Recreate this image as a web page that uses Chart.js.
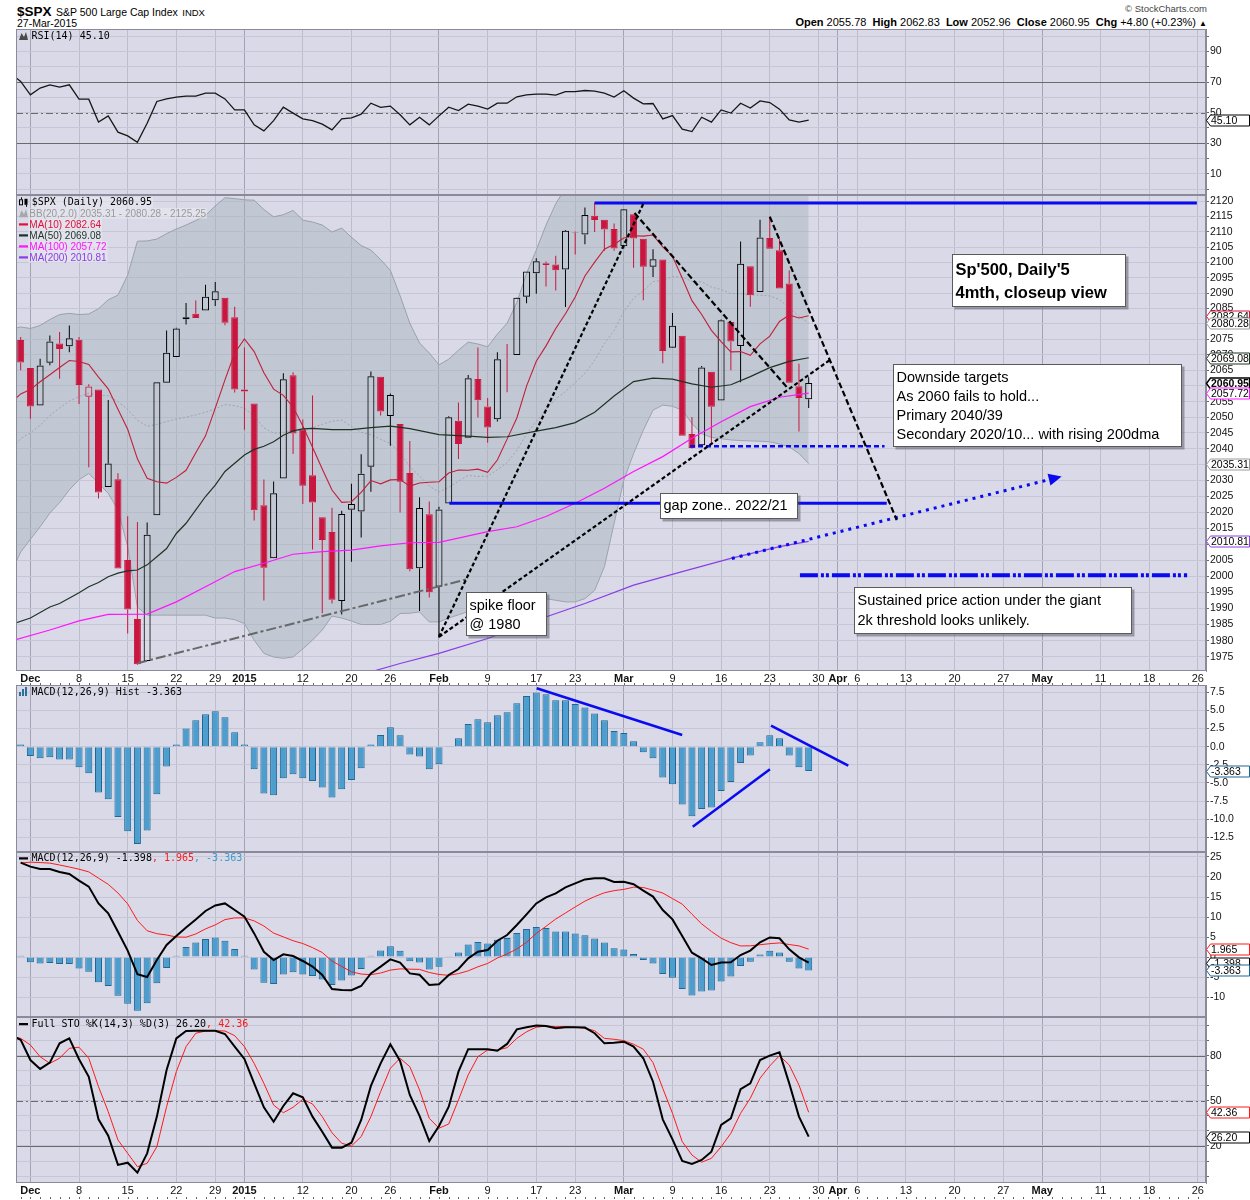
<!DOCTYPE html>
<html>
<head>
<meta charset="utf-8">
<title>$SPX Daily</title>
<script src="https://cdn.jsdelivr.net/npm/chart.js"></script>
<style>
  html, body { margin: 0; padding: 0; background: #fff; }
  body { width: 1250px; height: 1200px; position: relative; overflow: hidden; font-family: 'Liberation Sans', Arial, sans-serif; color: #000; }
  canvas { position: absolute; left: 16px; }
  .t { position: absolute; white-space: nowrap; }
</style>
</head>
<body>
<div class="t" style="left:17px;top:2px;line-height:18px;"><span style="font-weight:bold;font-size:13.5px;">$SPX</span> <span style="font-size:10.5px;">S&amp;P 500 Large Cap Index</span> <span style="font-size:9.5px;">INDX</span></div>
<div class="t" style="left:17px;top:17px;line-height:13px;font-size:10.5px;">27-Mar-2015</div>
<div class="t" style="right:43px;top:3px;line-height:12px;font-size:9.5px;color:#444;">&copy; StockCharts.com</div>
<div class="t" id="ohlc" style="right:43px;top:15px;line-height:14px;font-size:11px;"></div>
<canvas id="cRsi" width="1234" height="166" style="top:29px"></canvas>
<canvas id="cPrice" width="1234" height="490" style="top:195px"></canvas>
<canvas id="cHist" width="1234" height="167" style="top:685px"></canvas>
<canvas id="cMacd" width="1234" height="165" style="top:852px"></canvas>
<canvas id="cSto" width="1234" height="183" style="top:1017px"></canvas>
<script>
// ======================= DATA =======================
// Trading days shown (index 0 = Nov 28 2014 ... index 81 = Mar 27 2015)
const days = ['Nov 28','Dec 1','Dec 2','Dec 3','Dec 4','Dec 5','Dec 8','Dec 9','Dec 10','Dec 11','Dec 12','Dec 15','Dec 16','Dec 17','Dec 18','Dec 19','Dec 22','Dec 23','Dec 24','Dec 26','Dec 29','Dec 30','Dec 31','Jan 2','Jan 5','Jan 6','Jan 7','Jan 8','Jan 9','Jan 12','Jan 13','Jan 14','Jan 15','Jan 16','Jan 20','Jan 21','Jan 22','Jan 23','Jan 26','Jan 27','Jan 28','Jan 29','Jan 30','Feb 2','Feb 3','Feb 4','Feb 5','Feb 6','Feb 9','Feb 10','Feb 11','Feb 12','Feb 13','Feb 17','Feb 18','Feb 19','Feb 20','Feb 23','Feb 24','Feb 25','Feb 26','Feb 27','Mar 2','Mar 3','Mar 4','Mar 5','Mar 6','Mar 9','Mar 10','Mar 11','Mar 12','Mar 13','Mar 16','Mar 17','Mar 18','Mar 19','Mar 20','Mar 23','Mar 24','Mar 25','Mar 26','Mar 27'];
const priorClose = 2072.83; // Nov 26 close (for first candle colour)
const opens = [2074.78,2065.78,2053.77,2067.45,2073.64,2072.78,2074.84,2056.55,2058.86,2027.92,
  2030.36,2005.03,1986.71,1973.77,2018.98,2061.04,2069.28,2081.48,2083.25,2084.30,
  2087.63,2088.49,2082.11,2058.90,2054.44,2022.15,2005.55,2030.61,2063.45,2046.13,
  2031.58,2018.40,2013.75,1992.25,2020.76,2020.19,2034.30,2062.98,2050.42,2047.86,
  2032.34,2002.45,2019.35,1996.67,2022.71,2048.86,2043.45,2062.28,2053.47,2049.38,
  2068.55,2069.98,2088.78,2096.47,2099.16,2099.25,2097.65,2109.83,2109.10,2115.30,
  2113.91,2110.88,2105.23,2115.76,2107.72,2098.54,2100.91,2072.25,2076.14,2044.69,
  2041.10,2064.56,2055.35,2080.59,2072.84,2098.69,2090.32,2107.99,2103.94,2093.10,
  2059.94,2055.78];
const highs = [2075.76,2065.78,2068.77,2076.28,2077.34,2079.47,2075.78,2060.60,2058.86,2055.53,
  2032.25,2018.69,2016.89,2016.75,2061.23,2077.85,2078.76,2086.73,2087.56,2092.70,
  2093.55,2088.49,2085.58,2072.36,2054.44,2030.25,2029.61,2064.08,2064.43,2049.30,
  2056.93,2018.40,2021.35,2020.46,2028.94,2038.29,2064.62,2062.98,2057.62,2047.86,
  2042.49,2024.64,2023.32,2021.66,2050.30,2054.74,2063.55,2072.40,2056.16,2070.86,
  2073.48,2088.53,2097.03,2101.30,2100.23,2102.13,2110.61,2110.05,2117.94,2119.59,
  2113.91,2112.74,2117.52,2115.76,2107.72,2104.25,2100.91,2083.49,2076.14,2050.08,
  2066.41,2064.56,2081.41,2080.59,2106.85,2098.69,2113.92,2114.86,2107.63,2097.43,
  2067.15,2062.83];
const lows = [2065.06,2049.57,2053.77,2066.65,2062.34,2070.81,2054.27,2034.17,2024.26,2027.92,
  2002.33,1982.26,1972.56,1973.77,2018.98,2061.03,2069.28,2079.77,2081.86,2084.30,
  2085.75,2079.53,2057.94,2046.04,2017.34,1992.44,2005.55,2030.61,2038.33,2022.58,
  2008.25,1988.44,1991.47,1988.12,2004.49,2012.04,2026.38,2050.54,2040.97,2019.91,
  2001.49,1989.18,1993.38,1980.90,2022.71,2036.72,2043.45,2049.97,2041.88,2048.62,
  2057.99,2069.98,2086.70,2089.80,2092.15,2090.79,2085.44,2102.54,2105.87,2109.89,
  2103.76,2103.75,2104.50,2098.26,2087.62,2095.22,2067.27,2072.21,2044.16,2040.08,
  2041.10,2041.17,2055.35,2065.08,2061.23,2085.56,2090.32,2104.42,2091.50,2061.05,
  2045.50,2052.96];
const closes = [2067.56,2053.44,2066.55,2074.33,2071.92,2075.37,2060.31,2059.82,2026.14,2035.33,
  2002.33,1989.63,1972.74,2012.89,2061.23,2070.65,2078.54,2082.17,2081.88,2088.77,
  2090.57,2080.35,2058.90,2058.20,2020.58,2002.61,2025.90,2062.14,2044.81,2028.26,
  2023.03,2011.27,1992.67,2019.42,2022.55,2032.12,2063.15,2051.82,2057.09,2029.55,
  2002.16,2021.25,1994.99,2020.85,2050.03,2041.51,2062.52,2055.47,2046.74,2068.59,
  2068.53,2088.48,2096.99,2100.34,2099.68,2097.45,2110.30,2109.66,2115.48,2113.86,
  2110.74,2104.50,2117.39,2107.78,2098.53,2101.04,2071.26,2079.43,2044.16,2040.24,
  2065.95,2053.40,2081.19,2074.28,2099.50,2089.27,2108.10,2104.42,2091.50,2061.05,
  2056.15,2060.95];

// Overlays that start one day earlier (index -1 = Nov 26)
const ma10 = [2054.65,2057.47,2058.84,2061.36,2063.61,2065.93,2068.19,2067.88,2066.92,2062.83,2059.08,
  2052.55,2046.17,2036.79,2030.65,2029.58,2029.11,2030.93,2033.17,2038.74,2044.08,
  2052.91,2061.98,2070.60,2075.13,2071.06,2064.26,2058.99,2056.99,2053.28,2047.23,
  2040.48,2033.57,2026.95,2023.07,2023.27,2026.22,2029.94,2028.91,2030.14,2030.27,
  2028.18,2029.18,2029.41,2029.55,2032.30,2033.24,2033.18,2033.54,2032.51,2036.41,
  2043.05,2049.77,2059.97,2067.92,2072.89,2078.48,2083.26,2088.68,2095.55,2100.08,
  2104.30,2105.90,2107.94,2108.68,2108.57,2108.93,2105.02,2102.00,2094.87,2087.51,
  2083.03,2077.92,2074.30,2070.95,2071.05,2069.87,2073.55,2076.05,2080.79,2082.87,
  2081.89,2082.64];
const bbLower = [2001.0,2007.5,2011.5,2015.4,2019.7,2023.0,2027.0,2030.2,2032.2,2029.1,2025.9,
  2020.7,2009.2,1990.4,1987.9,1987.9,1987.9,1987.9,1987.9,1987.9,1987.9,
  1987.0,1987.0,1986.5,1985.3,1980.2,1976.1,1975.0,1974.6,1975.0,1977.5,
  1980.2,1983.3,1987.6,1987.0,1986.1,1985.0,1985.0,1985.0,1986.0,1988.4,
  1988.5,1988.9,1985.8,1985.8,1987.0,1988.0,1989.0,1989.0,1990.0,1990.0,
  1991.0,1992.0,1993.0,1993.5,1993.0,1992.5,1992.0,1992.0,1993.0,1995.6,
  2002.9,2016.5,2030.1,2038.5,2045.9,2052.3,2053.9,2053.5,2052.3,2048.0,
  2044.8,2043.6,2043.2,2042.8,2042.6,2042.5,2042.4,2042.2,2041.5,2040.6,
  2038.5,2035.31];
const bbMid = [2039.6,2043.25,2045.02,2047.45,2050.56,2052.98,2055.19,2056.61,2057.69,2057.01,2056.86,
  2055.01,2052.50,2049.08,2047.13,2047.76,2048.65,2049.40,2050.04,2050.78,2051.58,
  2052.73,2054.08,2053.69,2052.89,2050.32,2046.68,2044.96,2045.08,2046.01,2045.66,
  2046.69,2047.77,2048.77,2049.10,2047.16,2045.24,2044.47,2042.95,2041.71,2038.75,
  2034.33,2031.37,2028.18,2026.31,2027.78,2029.73,2031.56,2031.23,2031.32,2033.34,
  2035.61,2039.47,2044.69,2048.74,2052.59,2055.86,2058.22,2061.11,2064.03,2068.24,
  2073.67,2077.84,2083.96,2088.30,2090.73,2093.70,2094.14,2095.34,2095.21,2093.79,
  2093.66,2091.91,2091.12,2089.82,2089.81,2089.40,2089.29,2089.03,2087.83,2085.19,
  2082.46,2080.28];
const bbUpper = [2078.2,2079.0,2078.5,2079.5,2081.4,2083.0,2083.4,2083.0,2083.2,2084.9,2087.8,
  2089.3,2095.8,2106.9,2107.0,2107.6,2109.4,2110.9,2112.2,2113.7,2115.3,
  2118.5,2121.2,2120.9,2120.5,2120.4,2117.3,2114.9,2115.6,2117.0,2113.8,
  2113.2,2112.2,2109.9,2111.2,2108.2,2105.5,2104.0,2100.9,2097.4,2089.1,
  2080.2,2073.8,2070.6,2066.8,2068.6,2071.5,2074.1,2073.5,2072.6,2076.7,
  2080.2,2086.9,2096.4,2104.0,2112.2,2119.2,2124.4,2130.2,2135.1,2140.9,
  2144.4,2139.2,2137.8,2138.1,2135.6,2135.1,2134.4,2137.2,2138.1,2139.6,
  2142.5,2140.2,2139.0,2136.8,2137.0,2136.3,2136.2,2135.9,2134.2,2129.8,
  2126.4,2125.25];
// Slow moving averages read at sample days (day index, value)
const ma50Days = [-1,1,3,4,6,7,8,9,10,11,12,13,14,15,16,17,18,19,20,21,22,23,24,25,26,27,28,29,30,32,34,36,38,40,43,46,48,50,53,55,57,59,61,63,65,67,69,71,73,75,77,79,81];
const ma50Vals = [1985.0,1987.0,1990.4,1991.5,1994.8,1996.7,1998.0,1999.8,2000.9,2001.6,2001.9,2003.5,2006.0,2008.6,2013.3,2016.5,2020.7,2024.9,2028.5,2032.8,2035.4,2038.0,2039.8,2040.8,2042.2,2044.3,2045.7,2046.3,2046.5,2046.1,2046.1,2046.7,2047.2,2046.4,2044.5,2044.0,2043.6,2043.8,2045.6,2046.7,2048.3,2051.6,2056.8,2061.4,2062.5,2062.2,2060.7,2059.6,2060.4,2063.0,2065.9,2067.9,2069.08];
const ma100Days = [-1,3,6,9,13,16,19,22,25,28,31,34,37,40,43,48,51,54,57,60,63,66,69,72,75,78,81];
const ma100Vals = [1979.9,1983.3,1986.1,1988.1,1988.2,1992.0,1996.7,2001.4,2004.0,2006.8,2007.6,2008.1,2009.4,2010.4,2010.5,2013.9,2015.4,2018.6,2022.8,2027.5,2032.8,2037.5,2043.3,2048.6,2053.4,2056.4,2057.72];
const ma200Days = [35,39,43,48,53,58,63,68,73,78,81];
const ma200Vals = [1969.6,1973.0,1976.1,1980.7,1986.3,1991.5,1997.2,2001.4,2005.5,2009.2,2010.81];

// RSI(14), index -1 .. 81
const rsi = [75.5,70.4,61.7,66.1,68.2,66.7,68.2,58.8,58.8,43.8,47.9,
  37.2,34.8,30.6,43.1,57.3,59.0,60.2,60.8,60.8,62.8,
  62.8,59.0,51.8,51.8,42.0,38.1,44.8,53.6,49.7,45.9,
  44.8,42.5,38.7,45.9,46.6,49.0,56.2,53.4,54.3,48.6,
  42.0,47.0,42.0,47.9,53.6,51.4,55.6,54.3,52.3,56.2,
  56.2,60.4,61.7,62.1,62.1,61.5,63.8,63.8,64.5,64.1,
  62.8,60.2,64.3,59.5,55.8,56.0,45.9,48.1,39.2,37.6,
  47.0,43.8,51.8,49.7,56.2,53.0,57.7,56.6,52.3,45.3,
  43.8,45.1];
// MACD(12,26,9), index 0 .. 81
const macd = [23.6,22.6,22.0,22.0,21.25,20.75,19.1,17.6,13.4,10.9,
  6.3,1.6,-4.3,-5.0,-0.75,3.0,5.25,7.4,9.4,11.5,
  12.9,13.4,11.75,10.1,5.9,1.3,-0.75,0.67,0.25,-1.0,
  -2.4,-4.5,-8.0,-8.25,-8.3,-7.25,-4.1,-2.4,-0.6,-1.4,
  -4.1,-4.45,-7.0,-6.8,-4.5,-3.0,-0.33,1.33,1.75,4.08,
  5.5,8.0,10.67,13.4,14.9,15.9,17.4,18.4,19.4,19.7,
  19.7,18.75,18.8,18.2,16.6,15.1,11.75,9.4,5.25,1.08,
  -0.33,-2.0,-1.4,-1.3,0.5,1.6,3.67,4.9,4.67,1.92,
  -0.08,-1.398];
const signal = [23.5,23.7,23.61,23.47,23.0,22.5,21.95,21.28,19.71,18.17,
  16.01,13.29,9.14,6.56,5.83,5.5,5.0,4.95,5.76,7.03,
  8.02,9.35,9.77,9.78,9.03,7.75,5.97,5.04,4.07,3.37,
  2.34,1.12,-1.0,-2.36,-3.7,-4.26,-4.42,-4.01,-3.27,-2.97,
  -3.04,-3.09,-3.87,-4.36,-4.59,-4.15,-3.46,-2.45,-1.61,-0.25,
  0.76,2.01,3.67,5.9,7.67,9.5,11.0,12.51,13.97,15.1,
  16.06,16.59,16.91,17.46,17.38,16.71,15.99,14.6,13.22,10.7,
  8.28,6.38,4.72,3.58,2.76,2.8,3.07,3.33,3.52,3.12,
  2.77,1.965];
const hist = [0.32,-1.29,-1.61,-1.47,-1.75,-1.75,-2.85,-3.68,-6.31,-7.27,
  -9.71,-11.69,-13.44,-11.56,-6.58,-2.72,0.32,2.53,3.64,4.47,
  4.88,4.05,1.98,0.32,-3.13,-6.45,-6.72,-4.37,-3.82,-4.37,
  -4.74,-5.62,-7.00,-5.89,-4.60,-2.99,0.32,1.61,2.67,1.57,
  -1.06,-1.36,-3.13,-2.44,0.09,1.15,3.13,3.78,3.36,4.33,
  4.74,5.99,7.00,7.50,7.23,6.40,6.40,5.89,5.43,4.60,
  3.64,2.16,1.89,0.74,-0.78,-1.61,-4.24,-5.20,-7.97,-9.62,
  -8.61,-8.38,-6.12,-4.88,-2.26,-1.20,0.60,1.57,1.15,-1.20,
  -2.85,-3.363];
// Full Stochastics %K(14,3) %D(3), index -1 .. 81
const stoK = [93.5,90.5,77.1,71.2,75.4,88.2,91.5,77.6,66.0,37.7,26.8,
  7.4,8.9,2.3,15.1,39.5,70.5,91.5,96.4,96.6,96.6,
  96.6,94.4,86.0,77.8,61.6,45.7,36.1,46.6,55.0,52.4,
  39.5,29.5,18.9,18.9,22.2,37.3,59.9,74.9,87.6,76.5,
  53.9,40.0,23.3,33.3,46.1,69.4,84.3,84.3,84.3,83.3,
  87.8,97.5,98.9,100,99.7,98.2,98.9,98.9,98.7,94.9,
  88.2,88.6,89.3,86.0,78.3,62.7,37.7,24.4,10.0,8.0,
  10.7,16.2,34.0,38.4,57.7,61.6,77.1,80.0,82.2,61.6,
  39.5,26.2];
const stoD = [93.0,91.5,87.1,79.3,74.9,78.3,84.9,85.6,78.3,59.4,42.8,
  24.0,15.1,6.2,8.5,19.5,46.1,69.4,86.0,94.9,96.4,
  96.6,96.4,93.3,86.0,74.9,61.6,47.2,42.1,45.7,51.0,
  47.9,39.5,28.8,21.8,20.0,26.2,39.5,56.1,71.6,78.3,
  72.7,57.2,38.4,31.8,34.6,50.6,67.2,79.3,83.8,83.8,
  85.3,91.5,95.9,98.9,99.7,99.3,99.3,98.9,98.2,96.6,
  91.5,90.9,90.0,87.6,84.3,75.4,58.3,41.7,22.9,14.0,
  9.2,11.8,19.5,28.4,41.7,51.7,65.0,73.2,80.0,73.8,
  60.5,42.36];

// Time axis tick labels (trading-day index incl. future days)
const tickIdx  = [1,6,11,16,20,23,29,34,38,43,48,53,57,62,67,72,77,82,84,86,91,96,101,105,111,116,121];
const tickText = ['Dec','8','15','22','29','2015','12','20','26','Feb','9','17','23','Mar','9','16','23','30','Apr','6','13','20','27','May','11','18','26'];
const monthTicks = ['Dec','2015','Feb','Mar','Apr','May'];

// Annotations (day index, price / indicator value)
const resistance    = [59.0, 120.9, 2119.5];
const gapZone       = [44.06, 89.02, 2022.8];
const primaryTarget = [68.8, 88.8, 2040.8];
const threshold2k   = [80.1, 119.9, 2000.3];
const trendLines = [[43.0,1981.2,64.0,2119.2],[43.0,1981.2,83.2,2068.4],[63.1,2116.2,78.9,2059.1],[77.0,2115.0,90.05,2017.5]];
const floorLine  = [12.0,1973.1,45.85,1999.0];
const projection = [73.1,2005.5,107.0,2031.2];
const histLines  = [[53.04,8.07,68.0,1.62],[69.08,-11.05,77.02,-3.12],[77.13,2.9,85.07,-2.62]];
const noteText = [
  ["Sp'500, Daily'5", '4mth, closeup view'],
  ['Downside targets', 'As 2060 fails to hold...', 'Primary 2040/39', 'Secondary 2020/10... with rising 200dma'],
  ['gap zone.. 2022/21'],
  ['spike floor', '@ 1980'],
  ['Sustained price action under the giant', '2k threshold looks unlikely.']
];
const noteDay   = [95.77, 89.70, 65.72, 45.74, 85.69];
const notePrice = [2102.7, 2067.0, 2025.9, 1995.1, 1996.6];

// ======================= STYLE =======================
const FONT = "'Liberation Sans', Arial, sans-serif";
const MONO = "'DejaVu Sans Mono', monospace";
const PANEL_BG = '#d9d9e7';
const GRID_H = '#c6c6d6';
const GRID_V = '#bdbdcd';
const GRID_M = '#a3a3b5';
const RED = '#c8163e';
const BLUE = '#0a0af0';
const MA10_C = '#c0203a', MA50_C = '#1f3324', MA100_C = '#ff14ff', MA200_C = '#8a3ee6';
const HIST_F = '#4d9ecf', HIST_B = '#1d6793';
const X_MIN = -0.48, X_MAX = 121.84;
const noteStyle = [
  { w: 173, h: 52, font: 'bold 16.5px ' + FONT, first: 15.5, step: 23 },
  { w: 288, h: 82, font: '14.5px ' + FONT, first: 13.5, step: 19.1 },
  { w: 137, h: 25, font: '14.5px ' + FONT, first: 12.8, step: 19 },
  { w: 80,  h: 43, font: '14.5px ' + FONT, first: 13.5, step: 19 },
  { w: 277, h: 46, font: '14.5px ' + FONT, first: 13, step: 20 }
];

Chart.defaults.animation = false;
Chart.defaults.font.family = FONT;
Chart.defaults.events = [];
Chart.defaults.plugins.legend.display = false;
Chart.defaults.plugins.tooltip.enabled = false;
Chart.defaults.elements.point.radius = 0;
Chart.defaults.elements.line.tension = 0;

const last = a => a[a.length - 1];
const range = (a, b, s) => { const r = []; for (let v = a; v <= b + 1e-9; v += s) r.push(+v.toFixed(4)); return r; };
const pts = (arr, start) => arr.map((v, i) => ({ x: i + start, y: v }));
const pairs = (ds, vs) => ds.map((d, i) => ({ x: d, y: vs[i] }));
const isMonth = v => { const k = tickIdx.indexOf(v); return k >= 0 && monthTicks.includes(tickText[k]); };

// header OHLC text from data
(function () {
  const n = closes.length - 1, chg = closes[n] - closes[n - 1];
  const pct = chg / closes[n - 1] * 100;
  document.getElementById('ohlc').innerHTML =
    '<b>Open</b> ' + opens[n].toFixed(2) + '&nbsp; <b>High</b> ' + highs[n].toFixed(2) +
    '&nbsp; <b>Low</b> ' + lows[n].toFixed(2) + '&nbsp; <b>Close</b> ' + closes[n].toFixed(2) +
    '&nbsp; <b>Chg</b> ' + (chg >= 0 ? '+' : '') + chg.toFixed(2) + ' (' + (chg >= 0 ? '+' : '') + pct.toFixed(2) + '%) <span style="font-size:8px">&#9650;</span>';
})();

function xAxis(h, show) {
  return {
    type: 'linear', min: X_MIN, max: X_MAX, bounds: 'data', offset: false,
    afterBuildTicks: s => { s.ticks = tickIdx.map(v => ({ value: v })); },
    afterFit: s => { s.height = h; s.paddingLeft = 0; s.paddingRight = 0; },
    ticks: {
      display: show, autoSkip: false, maxRotation: 0, minRotation: 0, padding: 1, color: '#111',
      callback: v => { const k = tickIdx.indexOf(v); return k < 0 ? '' : tickText[k]; },
      font: c => ({ family: FONT, size: 11, weight: isMonth(c.tick ? c.tick.value : null) ? 'bold' : 'normal' })
    },
    grid: { offset: false, drawTicks: false, lineWidth: 1, color: c => isMonth(c.tick ? c.tick.value : null) ? GRID_M : GRID_V },
    border: { display: false }
  };
}
function yAxis(type, min, max, tickVals, labelFn) {
  return {
    type, position: 'right', min, max, bounds: 'data',
    afterBuildTicks: s => { s.ticks = tickVals.map(v => ({ value: v })); },
    afterFit: s => { s.width = 44; s.paddingTop = 0; s.paddingBottom = 0; },
    ticks: { autoSkip: false, padding: 1, color: '#111', font: { family: FONT, size: 10.5 }, callback: labelFn },
    grid: { color: GRID_H, lineWidth: 1, drawTicks: true, tickLength: 3, tickColor: '#666' },
    border: { display: true, color: '#8a8a9a' }
  };
}

function drawIcon(ctx, kind, x, y, color) {
  ctx.save();
  ctx.fillStyle = color; ctx.strokeStyle = color;
  if (kind === 'dash') { ctx.fillRect(x, y - 1, 9, 2.2); }
  else if (kind === 'mount') {
    ctx.beginPath(); ctx.moveTo(x, y + 4); ctx.lineTo(x + 2.5, y - 3); ctx.lineTo(x + 5, y + 1);
    ctx.lineTo(x + 7, y - 4); ctx.lineTo(x + 9, y + 4); ctx.closePath(); ctx.fill();
  } else if (kind === 'candle') {
    ctx.lineWidth = 1;
    ctx.strokeRect(x + 0.5, y - 2.5, 3, 5); ctx.fillRect(x + 5.5, y - 3.5, 3, 6);
    ctx.fillRect(x + 2, y - 5, 1, 2); ctx.fillRect(x + 7, y + 2.5, 1, 2);
  } else if (kind === 'bars') {
    ctx.fillRect(x, y, 2, 4); ctx.fillRect(x + 3, y - 3, 2, 7); ctx.fillRect(x + 6, y - 5, 2, 9);
  }
  ctx.restore();
}
function drawLegend(chart, rows) {
  const { ctx, chartArea: a } = chart;
  ctx.save(); ctx.textBaseline = 'middle'; ctx.textAlign = 'left';
  rows.forEach(row => {
    const y = a.top + row.y;
    let x = a.left + row.tx;
    if (row.bg) {
      let w = 0; row.parts.forEach(p => { ctx.font = p.f; w += ctx.measureText(p.t).width; });
      ctx.fillStyle = 'rgba(238,238,244,0.5)'; ctx.fillRect(x - 1, y - 5.5, w + 2, 11);
    }
    drawIcon(ctx, row.icon, a.left + 3, y, row.ic);
    row.parts.forEach(p => { ctx.font = p.f; ctx.fillStyle = p.c; ctx.fillText(p.t, x, y + 0.5); x += ctx.measureText(p.t).width; });
  });
  ctx.restore();
}
function valueBox(chart, b) {
  const { ctx, chartArea: a, scales: { y } } = chart;
  const py = Math.round(y.getPixelForValue(b.v)) + 0.5;
  const x0 = a.right + 0.5, w = 43, h = 11;
  ctx.save();
  ctx.beginPath();
  ctx.moveTo(x0, py); ctx.lineTo(x0 + 4, py - h / 2); ctx.lineTo(x0 + w, py - h / 2);
  ctx.lineTo(x0 + w, py + h / 2); ctx.lineTo(x0 + 4, py + h / 2); ctx.closePath();
  ctx.fillStyle = '#fff'; ctx.fill();
  ctx.lineWidth = b.bold ? 1.4 : 1; ctx.strokeStyle = b.color; ctx.stroke();
  ctx.fillStyle = '#000'; ctx.font = (b.bold ? 'bold ' : '') + '10.5px ' + FONT;
  ctx.textBaseline = 'middle'; ctx.textAlign = 'left';
  ctx.fillText(b.text, x0 + 4.5, py + 0.5);
  ctx.restore();
}
function drawMinor(chart, off) {
  const { ctx, chartArea: a, scales: { x } } = chart;
  ctx.save(); ctx.fillStyle = '#666';
  for (let d = 0; d <= 121; d++) { const px = Math.round(x.getPixelForValue(d)); ctx.fillRect(px, a.bottom + off, 1, 2); }
  ctx.restore();
}
function panelPlugin(cfg) {
  return {
    id: 'panel',
    beforeDraw(chart) {
      const { ctx, chartArea: a } = chart;
      ctx.save(); ctx.fillStyle = PANEL_BG; ctx.fillRect(a.left, a.top, a.right - a.left, a.bottom - a.top); ctx.restore();
    },
    beforeDatasetsDraw(chart) {
      if (!cfg.refs) return;
      const { ctx, chartArea: a, scales: { y } } = chart;
      ctx.save();
      cfg.refs.forEach(r => {
        const py = Math.round(y.getPixelForValue(r.v)) + 0.5;
        ctx.strokeStyle = '#6a6a6a'; ctx.lineWidth = 1.2; ctx.setLineDash(r.dash || []);
        ctx.beginPath(); ctx.moveTo(a.left, py); ctx.lineTo(a.right, py); ctx.stroke();
      });
      ctx.restore();
    },
    afterDatasetsDraw(chart) { if (cfg.annotate) cfg.annotate(chart); },
    afterDraw(chart) {
      const { ctx, chartArea: a } = chart;
      ctx.save(); ctx.strokeStyle = '#8a8a9a'; ctx.lineWidth = 1;
      ctx.strokeRect(a.left + 0.5, a.top + 0.5, a.right - a.left - 1, a.bottom - a.top - 1);
      ctx.restore();
      if (cfg.legend) drawLegend(chart, cfg.legend);
      (cfg.boxes || []).forEach(b => valueBox(chart, b));
      if (cfg.minor != null) drawMinor(chart, cfg.minor);
    }
  };
}
function strokeSeg(ctx, p1, p2, color, width, dash) {
  ctx.beginPath(); ctx.setLineDash(dash || []); ctx.strokeStyle = color; ctx.lineWidth = width;
  ctx.moveTo(p1[0], p1[1]); ctx.lineTo(p2[0], p2[1]); ctx.stroke();
}
function drawNote(ctx, p, lines, s) {
  const L = Math.round(p[0]) + 0.5, T = Math.round(p[1]) + 0.5;
  ctx.setLineDash([]);
  ctx.fillStyle = 'rgba(70,70,85,0.45)'; ctx.fillRect(L + 2, T + 2, s.w + 1, s.h + 1);
  ctx.fillStyle = '#fff'; ctx.fillRect(L, T, s.w, s.h);
  ctx.strokeStyle = '#5a5a5a'; ctx.lineWidth = 1; ctx.strokeRect(L, T, s.w, s.h);
  ctx.fillStyle = '#000'; ctx.font = s.font; ctx.textBaseline = 'middle'; ctx.textAlign = 'left';
  lines.forEach((t, i) => ctx.fillText(t, L + 3, T + s.first + i * s.step));
}
function annotatePrice(chart) {
  const { ctx, scales: { x, y } } = chart;
  const P = (d, v) => [x.getPixelForValue(d), y.getPixelForValue(v)];
  ctx.save();
  strokeSeg(ctx, P(floorLine[0], floorLine[1]), P(floorLine[2], floorLine[3]), '#686868', 2, [10, 3, 3, 3]);
  strokeSeg(ctx, P(resistance[0], resistance[2]), P(resistance[1], resistance[2]), BLUE, 3, []);
  strokeSeg(ctx, P(gapZone[0], gapZone[2]), P(gapZone[1], gapZone[2]), BLUE, 3, []);
  strokeSeg(ctx, P(primaryTarget[0], primaryTarget[2]), P(primaryTarget[1], primaryTarget[2]), BLUE, 2.5, [5, 3]);
  strokeSeg(ctx, P(threshold2k[0], threshold2k[2]), P(threshold2k[1], threshold2k[2]), BLUE, 4, [18, 3, 3, 2, 3, 3]);
  const a = P(projection[0], projection[1]), b = P(projection[2], projection[3]);
  const ang = Math.atan2(b[1] - a[1], b[0] - a[0]), L = 13, W = 6;
  const base = [b[0] - L * Math.cos(ang), b[1] - L * Math.sin(ang)];
  strokeSeg(ctx, a, base, BLUE, 3, [3, 5]);
  ctx.setLineDash([]); ctx.fillStyle = BLUE; ctx.beginPath(); ctx.moveTo(b[0], b[1]);
  ctx.lineTo(base[0] + W * Math.sin(ang), base[1] - W * Math.cos(ang));
  ctx.lineTo(base[0] - W * Math.sin(ang), base[1] + W * Math.cos(ang)); ctx.closePath(); ctx.fill();
  const dashes = [[4, 2.5], [4, 2.5], [6, 3], [6, 3]];
  trendLines.forEach((t, k) => strokeSeg(ctx, P(t[0], t[1]), P(t[2], t[3]), '#000', 2.2, dashes[k]));
  noteText.forEach((lines, k) => drawNote(ctx, P(noteDay[k], notePrice[k]), lines, noteStyle[k]));
  ctx.restore();
}
function annotateHist(chart) {
  const { ctx, scales: { x, y } } = chart;
  ctx.save();
  histLines.forEach(t => strokeSeg(ctx, [x.getPixelForValue(t[0]), y.getPixelForValue(t[1])], [x.getPixelForValue(t[2]), y.getPixelForValue(t[3])], BLUE, 2.5, []));
  ctx.restore();
}

const base = { responsive: false, maintainAspectRatio: false, layout: { padding: 0 } };
const M10 = '10px ' + MONO, P10 = '10px ' + FONT;

// ---------- RSI ----------
new Chart(document.getElementById('cRsi'), {
  type: 'line',
  data: { datasets: [{ data: pts(rsi, -1), borderColor: '#161616', borderWidth: 1.3, clip: 0 }] },
  options: Object.assign({}, base, {
    scales: { x: xAxis(0, false), y: yAxis('linear', -3.9, 104.75, range(0, 100, 10), v => [90, 70, 50, 30, 10].includes(v) ? String(v) : '') }
  }),
  plugins: [panelPlugin({
    refs: [{ v: 70 }, { v: 30 }, { v: 50, dash: [7, 3, 2, 3] }],
    legend: [{ y: 7, tx: 15.5, icon: 'mount', ic: '#4a4a4a', parts: [{ t: 'RSI(14) ' + last(rsi).toFixed(2), c: '#000', f: M10 }] }],
    boxes: [{ v: last(rsi), text: last(rsi).toFixed(2), color: '#000' }]
  })]
});

// ---------- PRICE ----------
const prevClose = [priorClose].concat(closes.slice(0, -1));
const candleColor = closes.map((c, i) => c < prevClose[i] ? RED : '#000');
const bodyFill = closes.map((c, i) => c < opens[i] ? candleColor[i] : 'rgba(0,0,0,0)');
const upperWick = closes.map((c, i) => ({ x: i, y: [Math.max(opens[i], c), highs[i]] }));
const lowerWick = closes.map((c, i) => ({ x: i, y: [lows[i], Math.min(opens[i], c)] }));
const bodies = closes.map((c, i) => ({ x: i, y: [opens[i], c] }));

new Chart(document.getElementById('cPrice'), {
  type: 'bar',
  data: {
    datasets: [
      { type: 'line', data: pts(bbLower, -1), borderColor: '#9aa1aa', borderWidth: 1, fill: false, order: 20, clip: 0 },
      { type: 'line', data: pts(bbUpper, -1), borderColor: '#9aa1aa', borderWidth: 1, fill: '-1', backgroundColor: 'rgba(160,176,184,0.42)', order: 19, clip: 0 },
      { type: 'line', data: pts(bbMid, -1), borderColor: '#a2a2b2', borderWidth: 1, borderDash: [2, 2], order: 18, clip: 0 },
      { data: upperWick, backgroundColor: candleColor, barThickness: 1, grouped: false, inflateAmount: 0, borderWidth: 0, order: 10 },
      { data: lowerWick, backgroundColor: candleColor, barThickness: 1, grouped: false, inflateAmount: 0, borderWidth: 0, order: 10 },
      { data: bodies, backgroundColor: bodyFill, borderColor: candleColor, borderWidth: 1, borderSkipped: false, barThickness: 7, grouped: false, inflateAmount: 0, order: 9 },
      { type: 'line', data: pts(ma10, -1), borderColor: MA10_C, borderWidth: 1.1, order: 4, clip: 0 },
      { type: 'line', data: pairs(ma50Days, ma50Vals), borderColor: MA50_C, borderWidth: 1.2, order: 3, clip: 0 },
      { type: 'line', data: pairs(ma100Days, ma100Vals), borderColor: MA100_C, borderWidth: 1.2, order: 2, clip: 0 },
      { type: 'line', data: pairs(ma200Days, ma200Vals), borderColor: MA200_C, borderWidth: 1.2, order: 1, clip: 0 }
    ]
  },
  options: Object.assign({}, base, {
    scales: { x: xAxis(14, true), y: yAxis('logarithmic', 1970.7, 2122.1, range(1975, 2120, 5), v => String(Math.round(v))) }
  }),
  plugins: [panelPlugin({
    annotate: annotatePrice,
    minor: 12,
    legend: [
      { y: 7.3, tx: 15.7, icon: 'candle', ic: '#000', bg: true, parts: [{ t: '$SPX (Daily) ' + last(closes).toFixed(2), c: '#000', f: M10 }] },
      { y: 18.3, tx: 13.3, icon: 'mount', ic: '#a8a8a8', bg: true, parts: [{ t: 'BB(20,2.0) ' + last(bbLower).toFixed(2) + ' - ' + last(bbMid).toFixed(2) + ' - ' + last(bbUpper).toFixed(2), c: '#9a9a9a', f: P10 }] },
      { y: 29.3, tx: 13.3, icon: 'dash', ic: '#e0103a', bg: true, parts: [{ t: 'MA(10) ' + last(ma10).toFixed(2), c: '#e0103a', f: P10 }] },
      { y: 40.3, tx: 13.3, icon: 'dash', ic: MA50_C, bg: true, parts: [{ t: 'MA(50) ' + last(ma50Vals).toFixed(2), c: MA50_C, f: P10 }] },
      { y: 51.3, tx: 13.3, icon: 'dash', ic: MA100_C, bg: true, parts: [{ t: 'MA(100) ' + last(ma100Vals).toFixed(2), c: MA100_C, f: P10 }] },
      { y: 62.3, tx: 13.3, icon: 'dash', ic: MA200_C, bg: true, parts: [{ t: 'MA(200) ' + last(ma200Vals).toFixed(2), c: MA200_C, f: P10 }] }
    ],
    boxes: [
      { v: last(ma10), text: last(ma10).toFixed(2), color: '#e0103a' },
      { v: last(bbMid), text: last(bbMid).toFixed(2), color: '#9a9a9a' },
      { v: last(ma50Vals), text: last(ma50Vals).toFixed(2), color: MA50_C },
      { v: last(closes), text: last(closes).toFixed(2), color: '#000', bold: true },
      { v: last(ma100Vals), text: last(ma100Vals).toFixed(2), color: MA100_C },
      { v: last(bbLower), text: last(bbLower).toFixed(2), color: '#9a9a9a' },
      { v: last(ma200Vals), text: last(ma200Vals).toFixed(2), color: MA200_C }
    ]
  })]
});

// ---------- MACD HISTOGRAM ----------
new Chart(document.getElementById('cHist'), {
  type: 'bar',
  data: { datasets: [{ data: pts(hist, 0), backgroundColor: HIST_F, borderColor: HIST_B, borderWidth: 1, barThickness: 7, inflateAmount: 0 }] },
  options: Object.assign({}, base, {
    scales: { x: xAxis(0, false), y: yAxis('linear', -14.54, 8.52, [7.5, 5, 2.5, 0, -2.5, -5, -7.5, -10, -12.5], v => v.toFixed(1)) }
  }),
  plugins: [panelPlugin({
    annotate: annotateHist,
    legend: [{ y: 7, tx: 15.5, icon: 'bars', ic: '#2a6f9e', parts: [{ t: 'MACD(12,26,9) Hist ' + last(hist).toFixed(3), c: '#000', f: M10 }] }],
    boxes: [{ v: last(hist), text: last(hist).toFixed(3), color: HIST_B }]
  })]
});

// ---------- MACD ----------
new Chart(document.getElementById('cMacd'), {
  type: 'bar',
  data: {
    datasets: [
      { data: pts(hist, 0), backgroundColor: HIST_F, borderColor: HIST_B, borderWidth: 1, barThickness: 7, inflateAmount: 0, order: 3 },
      { type: 'line', data: pts(signal, 0), borderColor: '#ff1a1a', borderWidth: 1, order: 2, clip: 0 },
      { type: 'line', data: pts(macd, 0), borderColor: '#000', borderWidth: 2, order: 1, clip: 0 }
    ]
  },
  options: Object.assign({}, base, {
    scales: { x: xAxis(0, false), y: yAxis('linear', -15, 26.25, [25, 20, 15, 10, 5, 0, -5, -10], v => String(v)) }
  }),
  plugins: [panelPlugin({
    legend: [{ y: 6.3, tx: 15.5, icon: 'dash', ic: '#000', parts: [
      { t: 'MACD(12,26,9) ' + last(macd).toFixed(3), c: '#000', f: M10 },
      { t: ', ' + last(signal).toFixed(3), c: '#ff1a1a', f: M10 },
      { t: ', ' + last(hist).toFixed(3), c: '#3c9ccc', f: M10 }] }],
    boxes: [
      { v: last(signal), text: last(signal).toFixed(3), color: '#ff1a1a' },
      { v: last(macd), text: last(macd).toFixed(3), color: '#000' },
      { v: last(hist), text: last(hist).toFixed(3), color: HIST_B }
    ]
  })]
});

// ---------- FULL STO ----------
new Chart(document.getElementById('cSto'), {
  type: 'line',
  data: {
    datasets: [
      { data: pts(stoD, -1), borderColor: '#ff1a1a', borderWidth: 1, order: 2, clip: 0 },
      { data: pts(stoK, -1), borderColor: '#000', borderWidth: 2, order: 1, clip: 0 }
    ]
  },
  options: Object.assign({}, base, {
    scales: { x: xAxis(17, true), y: yAxis('linear', -4.6, 105.7, range(0, 100, 10), v => [80, 50, 20].includes(v) ? String(v) : '') }
  }),
  plugins: [panelPlugin({
    refs: [{ v: 80 }, { v: 20 }, { v: 50, dash: [7, 3, 2, 3] }],
    minor: 14,
    legend: [{ y: 7, tx: 15.5, icon: 'dash', ic: '#000', parts: [
      { t: 'Full STO %K(14,3) %D(3) ' + last(stoK).toFixed(2), c: '#000', f: M10 },
      { t: ', ' + last(stoD).toFixed(2), c: '#ff1a1a', f: M10 }] }],
    boxes: [
      { v: last(stoD), text: last(stoD).toFixed(2), color: '#ff1a1a' },
      { v: last(stoK), text: last(stoK).toFixed(2), color: '#000' }
    ]
  })]
});
</script>
</body>
</html>
